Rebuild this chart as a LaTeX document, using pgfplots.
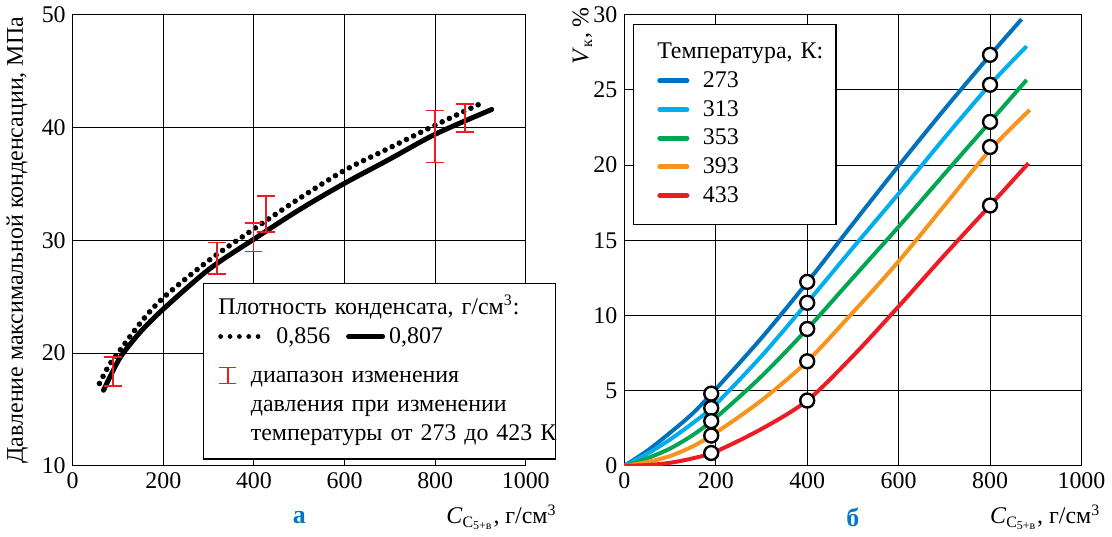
\documentclass[border=0pt]{standalone}
\usepackage{fontspec}
\setmainfont{Liberation Serif}
\usepackage{pgfplots}
\pgfplotsset{compat=1.18}
\definecolor{cA}{RGB}{0,114,188}
\definecolor{cB}{RGB}{0,174,239}
\definecolor{cC}{RGB}{0,166,81}
\definecolor{cD}{RGB}{247,148,29}
\definecolor{cE}{RGB}{237,28,36}
\definecolor{lbl}{RGB}{0,120,200}
\pgfplotsset{
  base/.style={
    scale only axis, height=226.5pt,
    xmin=0, xmax=1000, xtick={0,200,...,1000},
    grid=major, major grid style={black, line width=0.5pt},
    axis line style={black, line width=0.6pt},
    major tick length=0pt,
    tick label style={font=\fontsize{12}{14}\selectfont},
    /pgf/number format/assume math mode=true,
    /pgf/number format/1000 sep={},
    label style={font=\fontsize{12}{14}\selectfont},
    clip mode=individual,
  }
}
\begin{document}
\begin{tikzpicture}
\begin{axis}[base, name=L, width=227.5pt, ymin=10, ymax=50, ytick={10,20,...,50},
  ylabel={Давление максимальной конденсации, МПа},
  xlabel={\textit{C}\textsubscript{C\textsubscript{5+в}}, г/см\textsuperscript{3}},
  xlabel style={at={(rel axis cs:1,0)}, anchor=north east, xshift=19pt, yshift=-16pt},
]
\addplot[black, line width=2.8pt, line cap=round, dash pattern=on 0pt off 4pt, smooth] coordinates {
(59,17.3) (80,18.9) (100,20.0) (150,22.7) (200,24.9) (300,28.2) (400,31.0) (500,33.7) (600,36.2) (700,38.2) (800,40.2) (910,42.3)};
\addplot[black, line width=2.5pt, line cap=round, smooth] coordinates {
(68,16.7) (90,18.5) (108,19.8) (150,21.9) (200,23.9) (300,27.4) (400,30.1) (500,32.7) (600,35.05) (700,37.2) (800,39.4) (925,41.6)};
\addplot[draw=none, mark=none, error bars/.cd, y dir=both, y explicit,
  error bar style={draw=cE, line width=0.9pt},
  error mark options={draw=cE, line width=0.9pt, mark size=4.5pt, rotate=90}] coordinates {
(89,18.38) +- (0,1.28)
(318,28.4) +- (0,1.4)
(399,30.275) +- (0,1.275)
(427,32.3) +- (0,1.6)
(800,39.2) +- (0,2.3)
(865,40.85) +- (0,1.25)};
\coordinate (lgL) at (axis cs:287,26.2);
\node[font=\fontsize{13}{15}\selectfont\bfseries, text=lbl] at (rel axis cs:0.5,0) [yshift=-26pt] {а};
\end{axis}
\node[draw=black, line width=0.6pt, fill=white, anchor=north west, inner xsep=7.5pt, inner ysep=0pt,
  text width=162pt, minimum height=88pt, align=left, font=\fontsize{12}{14.6}\selectfont] at (lgL) {%
\raisebox{-2.5pt}{\begin{tabular}{@{}l@{\hspace{7pt}}l@{}}
\multicolumn{2}{@{}l@{}}{Плотность конденсата, г/см\textsuperscript{3}:}\\
\multicolumn{2}{@{}l@{}}{\tikz[baseline=-0.6ex]\draw[line width=2.4pt, line cap=round, dash pattern=on 0pt off 4.7pt] (0,0)--(18.8pt,0);\hspace{8pt}0,856\hspace{8pt}\tikz[baseline=-0.6ex]\draw[line width=2.6pt, line cap=round] (0,0)--(17pt,0);\,0,807}\\[5pt]
\tikz[baseline=-0.6ex]{\draw[cE, line width=0.9pt] (0,-4pt)--(0,4pt) (-4.25pt,-4pt)--(4.25pt,-4pt) (-4.25pt,4pt)--(4.25pt,4pt);} & диапазон изменения\\
& давления при изменении\\
& температуры от 273 до 423 К
\end{tabular}}};

\begin{axis}[base, name=R, at={(277pt,0)}, width=229.5pt, ymin=0, ymax=30, ytick={0,5,...,30},
  xlabel={\textit{C}\textsubscript{C\textsubscript{5+в}}, г/см\textsuperscript{3}},
  xlabel style={at={(rel axis cs:1,0)}, anchor=north east, xshift=13pt, yshift=-16pt},
]
\addplot[cA, line width=2pt, smooth] coordinates {
(0,0) (50,1.0) (100,2.2) (150,3.5) (200,5.1) (300,8.5) (400,12.2) (500,16.1) (600,19.95) (700,23.7) (800,27.3) (869,29.7)};
\addplot[cB, line width=2pt, smooth] coordinates {
(0,0) (50,0.8) (100,1.75) (150,2.85) (200,4.1) (300,7.3) (400,10.85) (500,14.5) (600,18.1) (700,21.8) (800,25.35) (880,27.9)};
\addplot[cC, line width=2pt, smooth] coordinates {
(0,0) (50,0.5) (100,1.15) (150,2.05) (200,3.2) (300,5.95) (400,9.1) (500,12.5) (600,15.9) (700,19.4) (800,22.87) (880,25.66)};
\addplot[cD, line width=2pt, smooth] coordinates {
(0,0) (50,0.25) (100,0.65) (150,1.3) (200,2.2) (300,4.35) (400,6.95) (500,10.2) (600,13.6) (700,17.3) (800,21.0) (887,23.67)};
\addplot[cE, line width=2pt, smooth] coordinates {
(0,0) (50,0.05) (100,0.2) (150,0.5) (200,0.95) (300,2.45) (400,4.34) (500,7.3) (600,10.6) (700,14.0) (800,17.31) (884,20.12)};
\addplot[only marks, mark=*, mark size=3.5pt, mark options={fill=white, draw=black, line width=1.2pt}] coordinates {
(190,4.8) (190,3.84) (190,2.97) (190,2.01) (190,0.85)
(400,12.23) (400,10.84) (400,9.10) (400,6.95) (400,4.34)
(800,27.33) (800,25.34) (800,22.87) (800,21.2) (800,17.31)};
\coordinate (lgR) at (axis cs:19.5,29.38);
\coordinate (yl) at (rel axis cs:0,1);
\node[font=\fontsize{13}{15}\selectfont\bfseries, text=lbl] at (rel axis cs:0.5,0) [yshift=-26pt] {б};
\end{axis}
\node[rotate=90, anchor=south east, font=\fontsize{12}{14}\selectfont, inner sep=0pt] at ([xshift=-16pt, yshift=4pt]yl) {\textit{V}\textsubscript{к}, \%};
\node[draw=black, line width=0.6pt, fill=white, anchor=north west, inner xsep=11.75pt, inner ysep=0pt,
  text width=78pt, minimum height=100.5pt, align=left, font=\fontsize{12}{14.4}\selectfont] at (lgR) {%
\raisebox{-4.5pt}{\begin{tabular}{@{}l@{\hspace{6.8pt}}l@{}}
\multicolumn{2}{@{}l@{}}{Температура, К:}\\
\tikz[baseline=-0.6ex]\draw[cA, line width=2.6pt, line cap=round] (0,0)--(13.5pt,0); & 273\\
\tikz[baseline=-0.6ex]\draw[cB, line width=2.6pt, line cap=round] (0,0)--(13.5pt,0); & 313\\
\tikz[baseline=-0.6ex]\draw[cC, line width=2.6pt, line cap=round] (0,0)--(13.5pt,0); & 353\\
\tikz[baseline=-0.6ex]\draw[cD, line width=2.6pt, line cap=round] (0,0)--(13.5pt,0); & 393\\
\tikz[baseline=-0.6ex]\draw[cE, line width=2.6pt, line cap=round] (0,0)--(13.5pt,0); & 433
\end{tabular}}};
\end{tikzpicture}
\end{document}
